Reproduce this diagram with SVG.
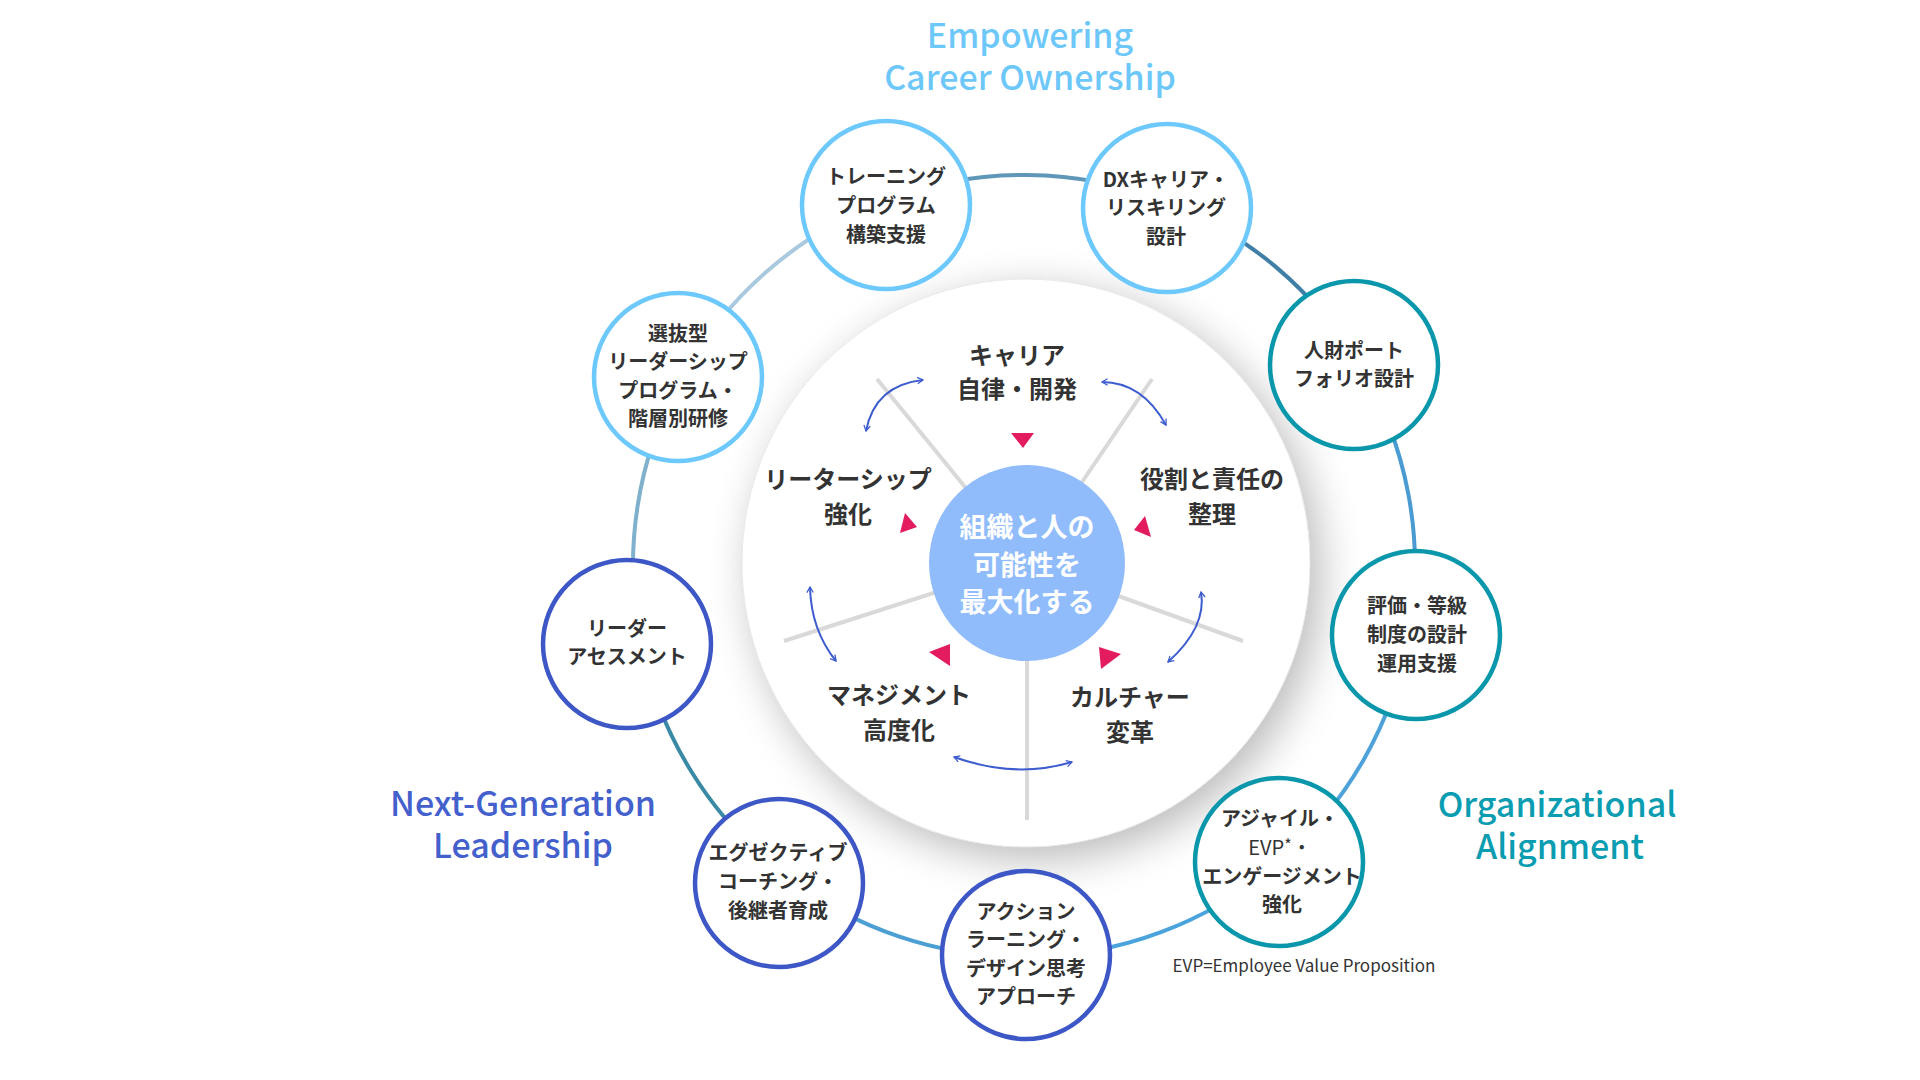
<svg xmlns="http://www.w3.org/2000/svg" width="1920" height="1080" viewBox="0 0 1920 1080">
<defs>
<style>
.jp{font-family:"Noto Sans CJK JP","Noto Sans",sans-serif;}
.node{fill:#ffffff;stroke-width:4.5;}
.lb{stroke:#6dc9fb;}
.tl{stroke:#0b97ab;}
.ib{stroke:#3d58c6;}
.nt{font-family:"Noto Sans CJK JP","Noto Sans",sans-serif;font-size:20px;font-weight:700;fill:#333333;text-anchor:middle;}
.il{font-family:"Noto Sans CJK JP","Noto Sans",sans-serif;font-size:24px;font-weight:700;fill:#333333;text-anchor:middle;}
.ct{font-family:"Noto Sans CJK JP","Noto Sans",sans-serif;font-size:27px;font-weight:700;fill:#ffffff;text-anchor:middle;}
.title{font-family:"Noto Sans CJK JP","Noto Sans",sans-serif;font-size:34px;font-weight:500;text-anchor:middle;}
.ring{fill:none;stroke-width:4;}
.spoke{stroke:#d9d9d9;stroke-width:4;}
.arr{fill:none;stroke:#3d5ccf;stroke-width:2;marker-start:url(#ah);marker-end:url(#ah);}
.tri{fill:#e31b5f;}
</style>
<marker id="ah" viewBox="0 0 10 10" refX="8" refY="5" markerWidth="8" markerHeight="8" markerUnits="userSpaceOnUse" orient="auto-start-reverse">
<path d="M1,1 L8,5 L1,9" fill="none" stroke="#3d5ccf" stroke-width="1.6"/>
</marker>
<filter id="sh" x="-30%" y="-30%" width="160%" height="160%">
<feGaussianBlur in="SourceAlpha" stdDeviation="22"/>
<feOffset dx="10" dy="12" result="b"/>
<feComponentTransfer><feFuncA type="linear" slope="0.28"/></feComponentTransfer>
<feMerge><feMergeNode/><feMergeNode in="SourceGraphic"/></feMerge>
</filter>
</defs>
<rect width="1920" height="1080" fill="#ffffff"/>

<g id="connectors">
<path class="ring" stroke="#a9c9de" d="M680.7,378.8 A391,391 0 0 1 884.5,200.7"/>
<path class="ring" stroke="#5f97b9" d="M884.5,200.7 A391,391 0 0 1 1169.2,203.0"/>
<path class="ring" stroke="#3f7fa6" d="M1169.2,203.0 A391,391 0 0 1 1358.1,362.9"/>
<path class="ring" stroke="#4a9bd1" d="M1358.1,362.9 A391,391 0 0 1 1409.1,633.9"/>
<path class="ring" stroke="#4ea2d9" d="M1409.1,633.9 A391,391 0 0 1 1279.0,862.4"/>
<path class="ring" stroke="#4aa3dc" d="M1279.0,862.4 A391,391 0 0 1 1026.0,957.0"/>
<path class="ring" stroke="#4b9fd3" d="M1026.0,957.0 A391,391 0 0 1 784.9,875.4"/>
<path class="ring" stroke="#3a8aa6" d="M784.9,875.4 A391,391 0 0 1 640.3,641.3"/>
<path class="ring" stroke="#7fb0cc" d="M640.3,641.3 A391,391 0 0 1 680.7,378.8"/>
</g>

<g id="inner-disk">
<circle cx="1026" cy="563" r="284" fill="#ffffff" filter="url(#sh)"/>
<circle cx="1026" cy="563" r="284" fill="none" stroke="#e8e8e8" stroke-width="1"/>
</g>

<g id="spokes">
<line class="spoke" x1="1027" y1="563" x2="877" y2="379"/>
<line class="spoke" x1="1027" y1="563" x2="1152" y2="379"/>
<line class="spoke" x1="1027" y1="563" x2="784" y2="641"/>
<line class="spoke" x1="1027" y1="563" x2="1243" y2="641"/>
<line class="spoke" x1="1027" y1="563" x2="1027" y2="820"/>
</g>

<g id="cycle-arrows">
<path class="arr" d="M923,380 Q875,385 866,431"/>
<path class="arr" d="M1102,382 Q1142,382 1166,425"/>
<path class="arr" d="M810,587 Q811,630 836,661"/>
<path class="arr" d="M1201,592 Q1207,627 1168,662"/>
<path class="arr" d="M954,757 Q1015,779 1072,762"/>
</g>

<g id="triangles">
<polygon class="tri" points="1011,433 1034,433 1023,448"/>
<polygon class="tri" points="905,513 900,533 917,527"/>
<polygon class="tri" points="1145,516 1134,530 1151,537"/>
<polygon class="tri" points="929,652 950,644 950,666"/>
<polygon class="tri" points="1099,647 1121,654 1101,669"/>
</g>

<g id="center">
<circle cx="1027" cy="563" r="98" fill="#90bcfb"/>
<text class="ct" x="1027" y="537">組織と人の</text>
<text class="ct" x="1027" y="575">可能性を</text>
<text class="ct" x="1027" y="612">最大化する</text>
</g>

<g id="label-career">
<text class="il" x="1017" y="364">キャリア</text>
<text class="il" x="1017" y="398">自律・開発</text>
</g>
<g id="label-leadership">
<text class="il" x="848" y="488">リーターシップ</text>
<text class="il" x="848" y="523">強化</text>
</g>
<g id="label-role">
<text class="il" x="1212" y="488">役割と責任の</text>
<text class="il" x="1212" y="523">整理</text>
</g>
<g id="label-management">
<text class="il" x="899" y="704">マネジメント</text>
<text class="il" x="899" y="739">高度化</text>
</g>
<g id="label-culture">
<text class="il" x="1130" y="706">カルチャー</text>
<text class="il" x="1130" y="741">変革</text>
</g>

<g id="node-training">
<circle class="node lb" cx="886" cy="205" r="84"/>
<text class="nt" x="886" y="184">トレーニング</text>
<text class="nt" x="886" y="213">プログラム</text>
<text class="nt" x="886" y="242">構築支援</text>
</g>
<g id="node-dx">
<circle class="node lb" cx="1167" cy="208" r="84"/>
<text class="nt" x="1166" y="187">DXキャリア・</text>
<text class="nt" x="1166" y="215">リスキリング</text>
<text class="nt" x="1166" y="244">設計</text>
</g>
<g id="node-portfolio">
<circle class="node tl" cx="1354" cy="365" r="84"/>
<text class="nt" x="1354" y="358">人財ポート</text>
<text class="nt" x="1354" y="386">フォリオ設計</text>
</g>
<g id="node-evaluation">
<circle class="node tl" cx="1416" cy="635" r="84"/>
<text class="nt" x="1417" y="613">評価・等級</text>
<text class="nt" x="1417" y="642">制度の設計</text>
<text class="nt" x="1417" y="671">運用支援</text>
</g>
<g id="node-agile">
<circle class="node tl" cx="1279" cy="862" r="84"/>
<text class="nt" x="1280" y="826">アジャイル・</text>
<text class="nt" x="1280" y="855" style="font-weight:400">EVP<tspan font-size="16" dy="-4">*</tspan><tspan dy="4">・</tspan></text>
<text class="nt" x="1282" y="884">エンゲージメント</text>
<text class="nt" x="1282" y="912">強化</text>
</g>
<g id="node-action">
<circle class="node ib" cx="1026" cy="955" r="84"/>
<text class="nt" x="1026" y="919">アクション</text>
<text class="nt" x="1026" y="947">ラーニング・</text>
<text class="nt" x="1026" y="976">デザイン思考</text>
<text class="nt" x="1026" y="1004">アプローチ</text>
</g>
<g id="node-executive">
<circle class="node ib" cx="779" cy="883" r="84"/>
<text class="nt" x="778" y="860">エグゼクティブ</text>
<text class="nt" x="778" y="889">コーチング・</text>
<text class="nt" x="778" y="918">後継者育成</text>
</g>
<g id="node-assessment">
<circle class="node ib" cx="627" cy="644" r="84"/>
<text class="nt" x="627" y="636">リーダー</text>
<text class="nt" x="627" y="664">アセスメント</text>
</g>
<g id="node-selective">
<circle class="node lb" cx="678" cy="377" r="84"/>
<text class="nt" x="678" y="341">選抜型</text>
<text class="nt" x="678" y="369">リーダーシップ</text>
<text class="nt" x="678" y="398">プログラム・</text>
<text class="nt" x="678" y="426">階層別研修</text>
</g>

<g id="titles">
<text class="title" x="1030" y="48" fill="#6dc8f9">Empowering</text>
<text class="title" x="1030" y="90" fill="#6dc8f9">Career Ownership</text>
<text class="title" x="523" y="816" fill="#4360cc">Next-Generation</text>
<text class="title" x="523" y="858" fill="#4360cc">Leadership</text>
<text class="title" x="1557" y="817" fill="#0a9cb0">Organizational</text>
<text class="title" x="1560" y="859" fill="#0a9cb0">Alignment</text>
</g>

<g id="note">
<text class="jp" x="1304" y="972" font-size="17" fill="#333333" text-anchor="middle">EVP=Employee Value Proposition</text>
</g>
</svg>
